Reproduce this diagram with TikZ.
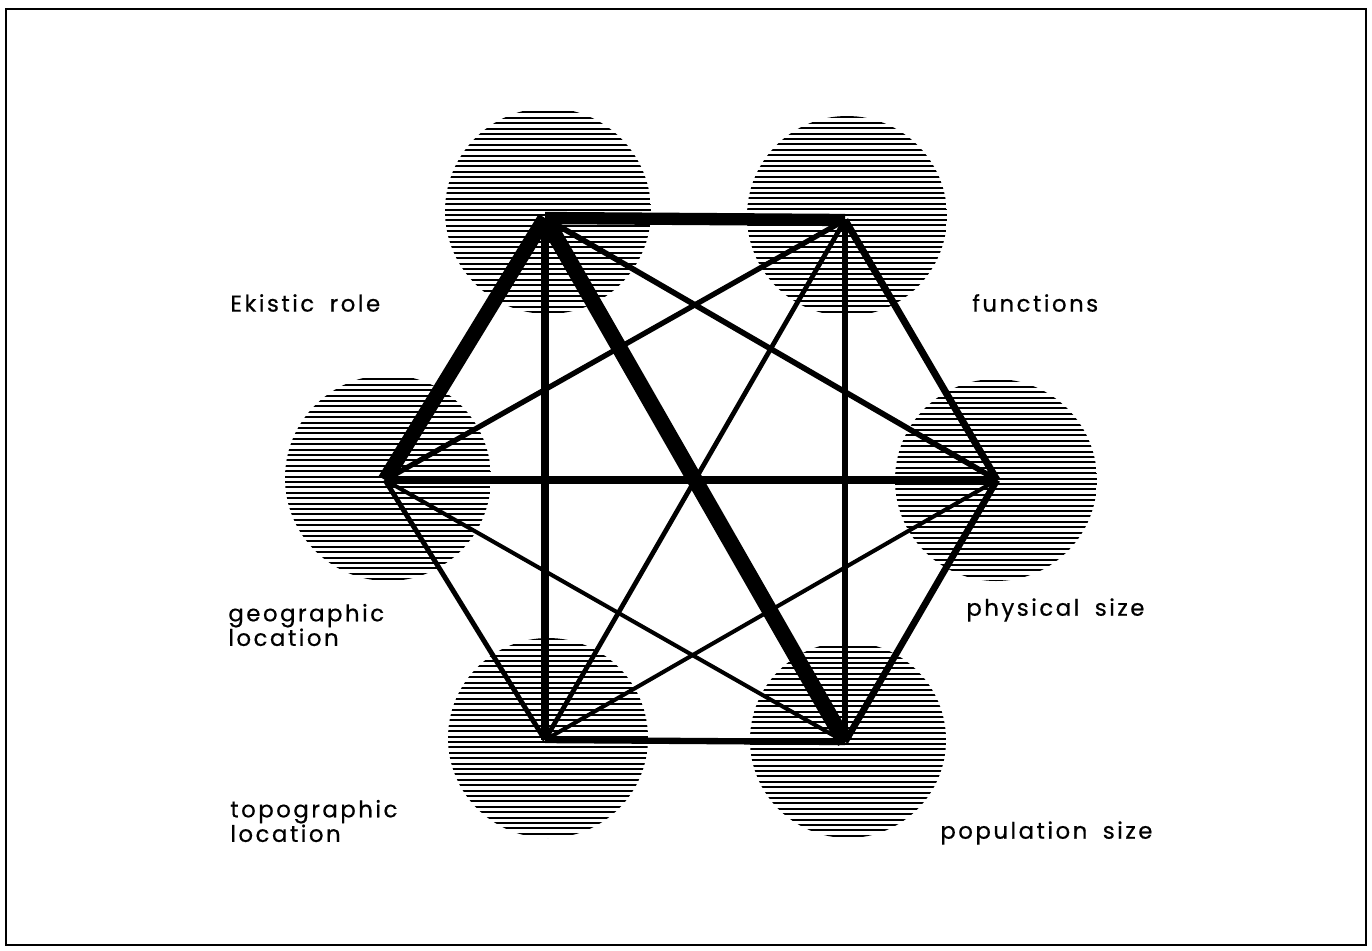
\documentclass[tikz,border=0pt]{standalone}
\usepackage{fontspec}
\newfontfamily\labelfont{Poppins}[LetterSpace=11, WordSpace=1.8, FakeBold=0.6]
\usetikzlibrary{positioning}

\begin{document}
\begin{tikzpicture}[
    x=0.02cm, y=-0.02cm,
    hatch/.style={line width=1.2pt, black},
    link/.style={black, line join=miter},
    caption/.style={font=\labelfont\fontsize{13}{14}\selectfont, align=left,
                    anchor=west, inner sep=0pt}
]

% Frame
\useasboundingbox (0,0) rectangle (1372,950);
\draw[line width=1.1pt] (6,9) rectangle (1366,945);

% Hatched discs
\foreach \cx/\cy/\r in {548/211/103, 847/216/100, 388/478/103,
                        996/480/101, 548/738/100, 848/740/98} {
  \begin{scope}
    \clip (\cx,\cy) circle[radius=\r];
    \foreach \dy in {-104,-98.6,...,106}
      \draw[hatch] (\cx-\r,\cy+\dy) -- (\cx+\r,\cy+\dy);
  \end{scope}
}

% Vertices
\coordinate (role) at (545,218);
\coordinate (func) at (845,220);
\coordinate (geo)  at (385,480);
\coordinate (phys) at (997,480);
\coordinate (topo) at (545,740);
\coordinate (pop)  at (845,742);

% Links
\draw[link, line width=9pt]   (role) -- (pop);
\draw[link, line width=8.5pt] (role) -- (geo);
\draw[link, line width=7pt]   (role) -- (func);
\draw[link, line width=4.4pt] (role) -- (topo);
\draw[link, line width=3.2pt] (role) -- (phys);
\draw[link, line width=3pt]   (func) -- (geo);
\draw[link, line width=2.7pt] (func) -- (topo);
\draw[link, line width=3.8pt] (func) -- (pop);
\draw[link, line width=4pt]   (func) -- (phys);
\draw[link, line width=4pt]   (geo) -- (phys);
\draw[link, line width=2.8pt] (geo) -- (topo);
\draw[link, line width=2.3pt] (geo) -- (pop);
\draw[link, line width=2.3pt] (phys) -- (topo);
\draw[link, line width=3.8pt] (phys) -- (pop);
\draw[link, line width=3.6pt] (topo) -- (pop);

% Labels
\node[caption] (rolelbl) at (230,303) {Ekistic role};
\node[caption] (funclbl) at (972,303) {functions};
\node[caption] (geolbl)  at (228,625) {geographic\\location};
\node[caption] (physlbl) at (966,610) {physical size};
\node[caption] (topolbl) at (230,821) {topographic\\location};
\node[caption] (poplbl)  at (940,833) {population size};

\end{tikzpicture}
\end{document}
